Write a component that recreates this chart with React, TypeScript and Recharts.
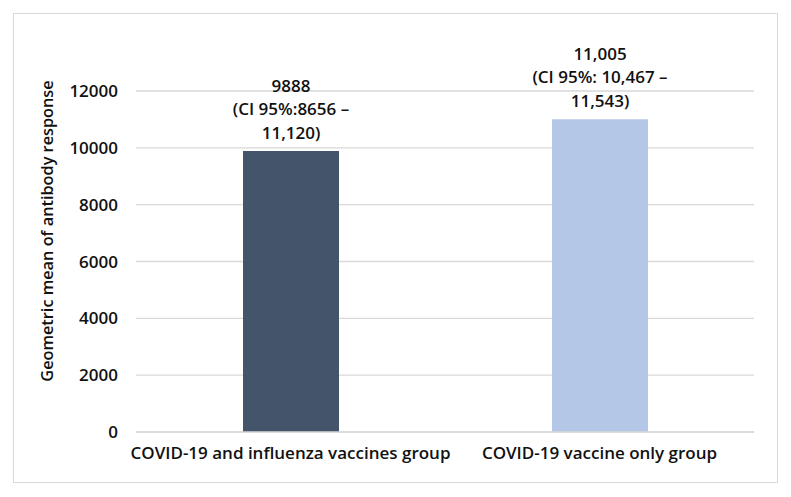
import { BarChart, Bar, XAxis, YAxis, CartesianGrid, LabelList, Label, Cell } from 'recharts';

const groups = ['COVID-19 and influenza vaccines group', 'COVID-19 vaccine only group'];
const gmValues = [9888, 11005];
const ciLabels = [
  ['9888', '(CI 95%:8656 \u2013', '11,120)'],
  ['11,005', '(CI 95%: 10,467 \u2013', '11,543)'],
];
const barColors = ['#44546A', '#B4C7E7'];
const yTicks = [0, 2000, 4000, 6000, 8000, 10000, 12000];

const data = groups.map((g, i) => ({ group: g, value: gmValues[i] }));

const FONT = '"Open Sans", sans-serif';
const TEXT = '#111';

function BarLabel(props: any) {
  const { x, y, width, index } = props;
  const lines = ciLabels[index];
  const cx = x + width / 2;
  return (
    <g>
      {lines.map((t, k) => (
        <text
          key={k}
          x={cx}
          y={y - 19 - (lines.length - 1 - k) * 23.5}
          textAnchor="middle"
          dominantBaseline="central"
          fontFamily={FONT}
          fontWeight={600}
          fontSize={17}
          fill={TEXT}
        >
          {t}
        </text>
      ))}
    </g>
  );
}

export default function App() {
  return (
    <div
      style={{
        marginLeft: 5,
        marginTop: 5,
        width: 763,
        height: 468,
        border: '1px solid #d9d9d9',
        background: '#fff',
      }}
    >
      <BarChart
        width={763}
        height={468}
        data={data}
        margin={{ top: 77, right: 23, bottom: 0, left: 0 }}
      >
        <CartesianGrid vertical={false} stroke="#d9d9d9" strokeWidth={1.3} />
        <XAxis
          dataKey="group"
          height={50}
          axisLine={{ stroke: '#d9d9d9', strokeWidth: 1.3 }}
          tickLine={false}
          tickMargin={9}
          tick={{ fontFamily: FONT, fontWeight: 600, fontSize: 17, fill: TEXT }}
          interval={0}
        />
        <YAxis
          width={122}
          domain={[0, 12000]}
          ticks={yTicks}
          axisLine={false}
          tickLine={false}
          tickMargin={12}
          tick={{ fontFamily: FONT, fontWeight: 600, fontSize: 17, fill: TEXT }}
        >
          <Label
            content={() => (
              <text
                x={33}
                y={217}
                transform="rotate(-90, 33, 217)"
                textAnchor="middle"
                dominantBaseline="central"
                fontFamily={FONT}
                fontWeight={600}
                fontSize={16.3}
                fill={TEXT}
              >
                Geometric mean of antibody response
              </text>
            )}
          />
        </YAxis>
        <Bar dataKey="value" barSize={96} isAnimationActive={false}>
          {data.map((d, i) => (
            <Cell key={d.group} fill={barColors[i]} />
          ))}
          <LabelList dataKey="value" content={BarLabel} />
        </Bar>
      </BarChart>
    </div>
  );
}
